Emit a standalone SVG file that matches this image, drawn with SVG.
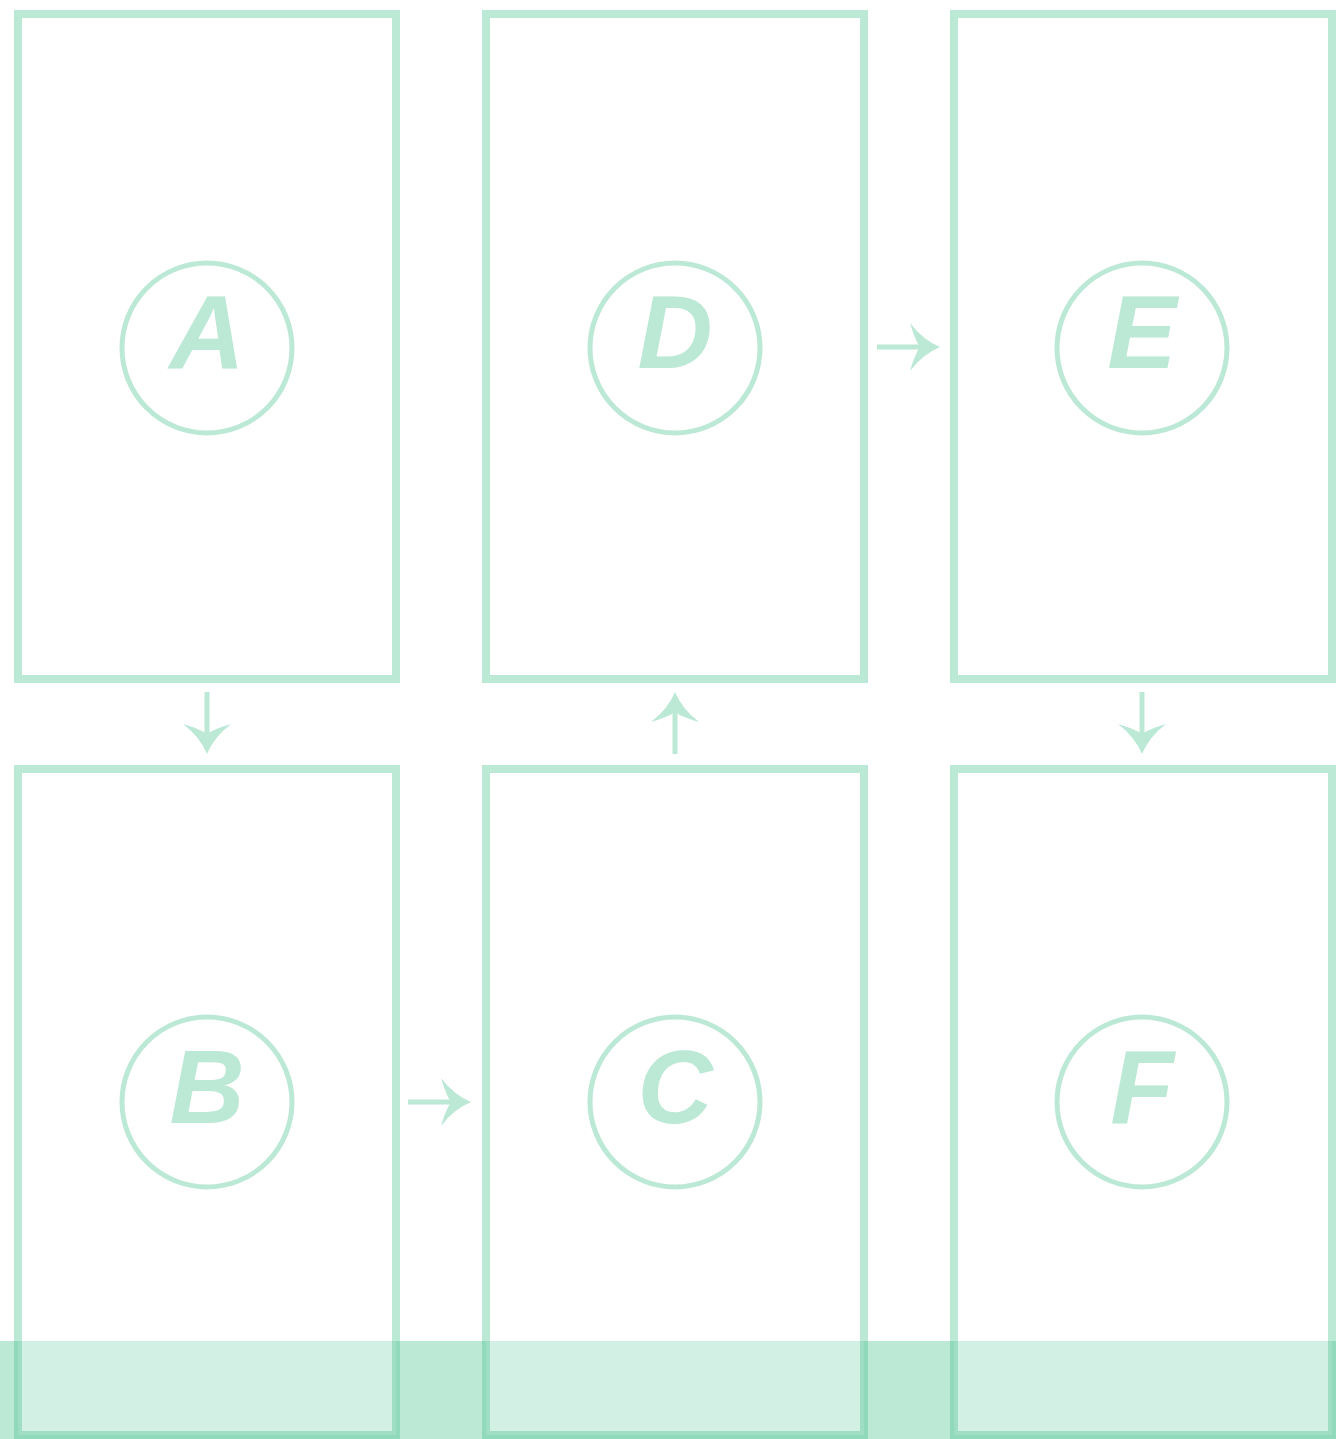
<svg xmlns="http://www.w3.org/2000/svg" width="1336" height="1439" viewBox="0 0 1336 1439">
<style>
.box{fill:#ffffff;fill-opacity:.34;stroke:#3abb86;stroke-opacity:.34;stroke-width:8}
.ring{fill:none;stroke:#bce8d6;stroke-width:5}
.lbl{fill:#bce8d6;font-family:"Liberation Sans",Arial,sans-serif;font-weight:bold;font-style:italic;font-size:104px;text-anchor:middle}
.shaft{stroke:#bce8d6;stroke-width:5;fill:none}
.head{fill:#bce8d6}
</style>
<defs>
<path id="ah" class="head" d="M0 0 Q-17 -7 -30 -24 Q-25 -7 -20 0 Q-25 7 -30 24 Q-17 7 0 0 Z"/>
</defs>
<rect x="0" y="1341" width="1336" height="98" fill="#3abb86" fill-opacity=".34"/>
<g id="node-A"><rect class="box" x="18" y="14" width="378" height="665"/><circle class="ring" cx="207" cy="348" r="85"/><text class="lbl" x="207" y="368">A</text></g>
<g id="node-D"><rect class="box" x="486" y="14" width="378" height="665"/><circle class="ring" cx="675" cy="348" r="85"/><text class="lbl" x="675" y="368">D</text></g>
<g id="node-E"><rect class="box" x="954" y="14" width="378" height="665"/><circle class="ring" cx="1142" cy="348" r="85"/><text class="lbl" x="1142" y="368">E</text></g>
<g id="node-B"><rect class="box" x="18" y="769" width="378" height="666"/><circle class="ring" cx="207" cy="1102" r="85"/><text class="lbl" x="207" y="1123">B</text></g>
<g id="node-C"><rect class="box" x="486" y="769" width="378" height="666"/><circle class="ring" cx="675" cy="1102" r="85"/><text class="lbl" x="675" y="1123">C</text></g>
<g id="node-F"><rect class="box" x="954" y="769" width="378" height="666"/><circle class="ring" cx="1142" cy="1102" r="85"/><text class="lbl" x="1142" y="1123">F</text></g>
<g id="connectors">
<line class="shaft" x1="207" y1="692" x2="207" y2="736"/><use href="#ah" transform="translate(207 754) rotate(90)"/>
<line class="shaft" x1="675" y1="754" x2="675" y2="710"/><use href="#ah" transform="translate(675 692) rotate(-90)"/>
<line class="shaft" x1="1142" y1="692" x2="1142" y2="736"/><use href="#ah" transform="translate(1142 754) rotate(90)"/>
<line class="shaft" x1="877" y1="347" x2="922" y2="347"/><use href="#ah" transform="translate(940 347)"/>
<line class="shaft" x1="408" y1="1102" x2="453" y2="1102"/><use href="#ah" transform="translate(471 1102)"/>
</g>
</svg>
